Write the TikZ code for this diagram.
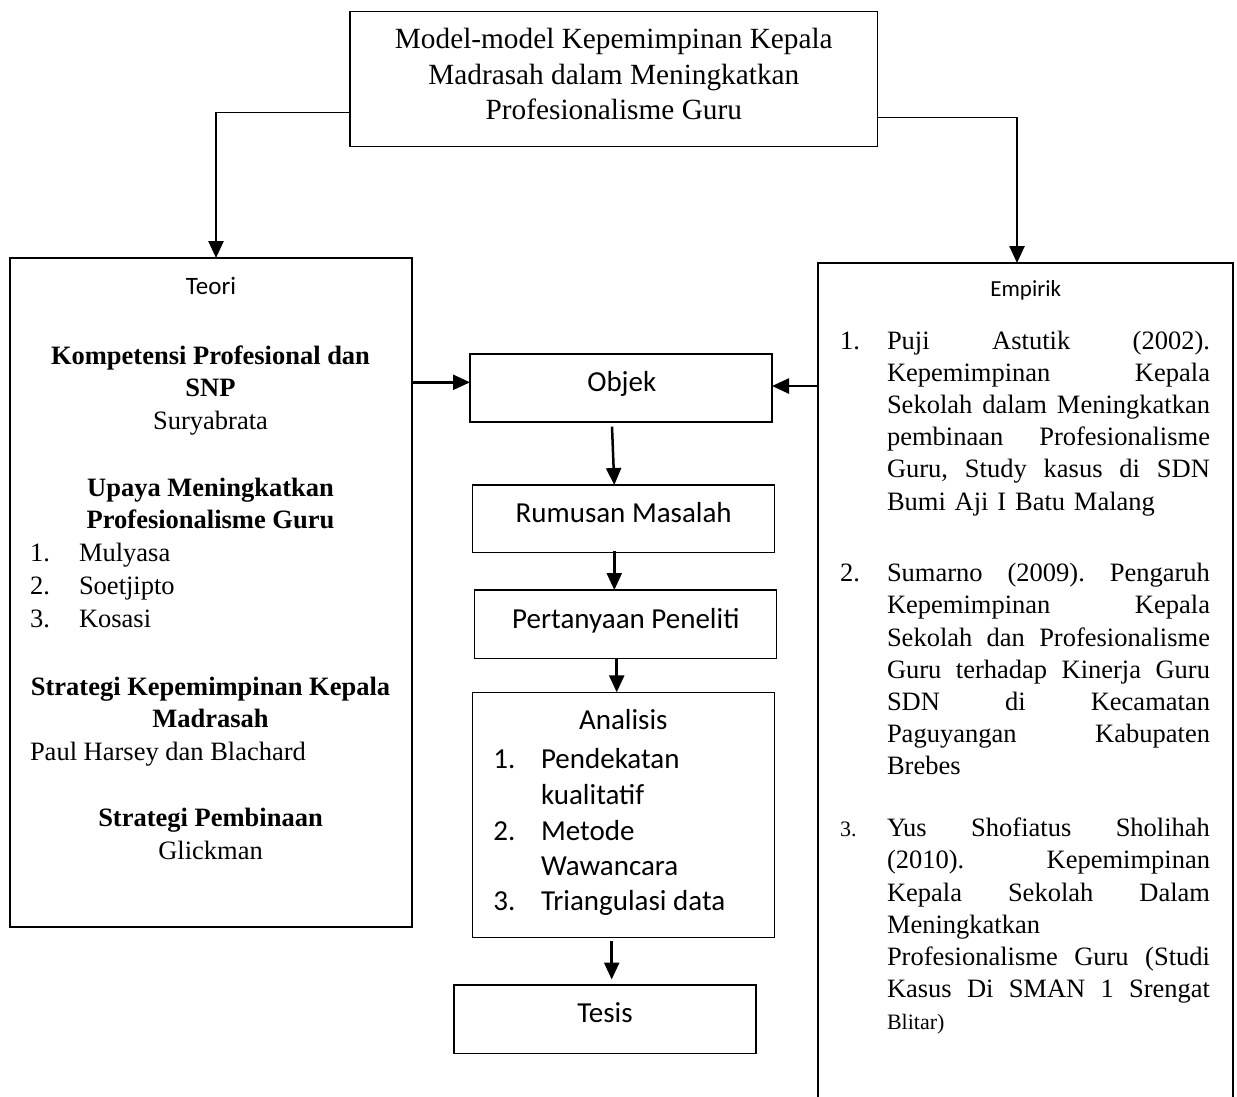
\documentclass[tikz,border=0pt]{standalone}
\usepackage{fontspec}
\setmainfont{Liberation Serif}
\newfontfamily\calfont{Carlito}
\usetikzlibrary{arrows.meta}
\newcommand{\jl}[1]{\makebox[323pt][s]{\frenchspacing\spaceskip=0.25em plus 1fil\xspaceskip=0.25em plus 1fil\relax #1}}
\begin{document}
\begin{tikzpicture}[x=1pt,y=-1pt,
  bx/.style={draw=black,line width=1.2pt,inner sep=0pt,outer sep=0pt},
  arr/.style={line width=2.5pt,-{Triangle[length=17pt,width=15pt]}},
  thinln/.style={line width=1.3pt},
  tx/.style={inner sep=0pt,outer sep=0pt,anchor=base},
  txl/.style={inner sep=0pt,outer sep=0pt,anchor=base west},
  tm/.style={font=\fontsize{26.5}{32.5}\selectfont},
  tmb/.style={font=\fontsize{26.5}{32.5}\selectfont\bfseries},
  cal/.style={font=\calfont\fontsize{29}{35.6}\selectfont},
]
\useasboundingbox (0,0) rectangle (1237,1097);

% boxes
\node[bx,minimum width=527.7pt,minimum height=135pt] (top) at (613.85,79.2) {};
\node[bx,minimum width=402pt,minimum height=669pt] (teori) at (211,592.5) {};
\node[inner sep=0pt,outer sep=0pt,minimum width=415pt,minimum height=847pt] (emp) at (1025.5,686.5) {};
\draw[line width=1.2pt] (emp.south west) -- (emp.north west) -- (emp.north east) -- (emp.south east);
\node[bx,minimum width=302pt,minimum height=68pt] (objek) at (621,388) {};
\node[bx,minimum width=302.4pt,minimum height=67.3pt] (rumusan) at (623.5,518.65) {};
\node[bx,minimum width=302.4pt,minimum height=68.3pt] (pert) at (625.5,624.15) {};
\node[bx,minimum width=302pt,minimum height=245.4pt] (anal) at (623.3,815) {};
\node[bx,minimum width=302pt,minimum height=68.3pt] (tesis) at (605,1019.15) {};

% top box text
\node[tx,font=\fontsize{29.3}{36}\selectfont] (tt1) at (613.8,48.5) {Model-model Kepemimpinan Kepala};
\node[tx,font=\fontsize{29.3}{36}\selectfont] (tt2) at (613.8,84.5) {Madrasah dalam Meningkatkan};
\node[tx,font=\fontsize{29.3}{36}\selectfont] (tt3) at (613.8,120) {Profesionalisme Guru};

% Teori text
\node[tx,font=\calfont\fontsize{25}{30}\selectfont] (teorit) at (211,294) {Teori};
\node[tx,tmb] (k1) at (210.5,364) {Kompetensi Profesional dan};
\node[tx,tmb] (k2) at (210.5,396.7) {SNP};
\node[tx,tm] (k3) at (210.5,429) {Suryabrata};
\node[tx,tmb] (u1) at (210.5,496.7) {Upaya Meningkatkan};
\node[tx,tmb] (u2) at (210.5,528.7) {Profesionalisme Guru};
\node[txl,tm] (n1) at (30,561.7) {1.};
\node[txl,tm] (m1) at (79,561.7) {Mulyasa};
\node[txl,tm] (n2) at (30,594.2) {2.};
\node[txl,tm] (m2) at (79,594.2) {Soetjipto};
\node[txl,tm] (n3) at (30,627.2) {3.};
\node[txl,tm] (m3) at (79,627.2) {Kosasi};
\node[tx,tmb] (s1) at (210.5,695) {Strategi Kepemimpinan Kepala};
\node[tx,tmb] (s2) at (210.5,727.3) {Madrasah};
\node[txl,tm] (s3) at (30,760) {Paul Harsey dan Blachard};
\node[tx,tmb] (p1) at (210.5,826.7) {Strategi Pembinaan};
\node[tx,tm] (p2) at (210.5,859) {Glickman};

% Empirik text
\node[tx,font=\calfont\fontsize{23}{28}\selectfont] (empt) at (1025.7,296.7) {Empirik};
\node[txl,tm] (e1n) at (840,349) {1.};
\node[txl,text width=323pt,align=left,font=\fontsize{26.5}{32.2}\selectfont] (e1) at (887,349)
 {\jl{Puji Astutik (2002).}\\\jl{Kepemimpinan Kepala}\\\jl{Sekolah dalam Meningkatkan}\\\jl{pembinaan Profesionalisme}\\\jl{Guru, Study kasus di SDN}\\Bumi Aji I Batu Malang};
\node[txl,tm] (e2n) at (840,581.7) {2.};
\node[txl,text width=323pt,align=left,font=\fontsize{26.5}{32.2}\selectfont] (e2) at (887,581.7)
 {\jl{Sumarno (2009). Pengaruh}\\\jl{Kepemimpinan Kepala}\\\jl{Sekolah dan Profesionalisme}\\\jl{Guru terhadap Kinerja Guru}\\\jl{SDN di Kecamatan}\\\jl{Paguyangan Kabupaten}\\Brebes};
\node[txl,font=\fontsize{22}{32.2}\selectfont] (e3n) at (840,836.7) {3.};
\node[txl,text width=323pt,align=left,font=\fontsize{26.5}{32.2}\selectfont] (e3) at (887,836.7)
 {\jl{Yus Shofiatus Sholihah}\\\jl{(2010). Kepemimpinan}\\\jl{Kepala Sekolah Dalam}\\Meningkatkan\\\jl{Profesionalisme Guru (Studi}\\\jl{Kasus Di SMAN 1 Srengat}\\{\fontsize{22}{32.2}\selectfont Blitar)}};

% middle column text
\node[tx,cal] (objt) at (621.8,391.7) {Objek};
\node[tx,cal] (rumt) at (623.7,522.7) {Rumusan Masalah};
\node[tx,cal] (pertt) at (625.8,628.3) {Pertanyaan Peneliti};
\node[tx,cal] (analt) at (623.3,729.3) {Analisis};
\node[txl,cal] (a1n) at (493.3,768.3) {1.};
\node[txl,cal] (a1t) at (541,768.3) {Pendekatan};
\node[txl,cal] (a1u) at (541,804.3) {kualitatif};
\node[txl,cal] (a2n) at (493.3,840) {2.};
\node[txl,cal] (a2t) at (541,840) {Metode};
\node[txl,cal] (a2u) at (541,875.3) {Wawancara};
\node[txl,cal] (a3n) at (493.3,910.7) {3.};
\node[txl,cal] (a3t) at (541,910.7) {Triangulasi data};
\node[tx,cal] (tesist) at (605,1022.7) {Tesis};

% connectors
\coordinate (tl) at (216,112.3);
\draw[thinln] (tl -| top.west) -- (tl);
\draw[arr] (tl) -- (tl |- teori.north);
\coordinate (tr) at (1017,117.3);
\draw[thinln] (tr -| top.east) -- (tr);
\draw[arr] (tr) -- (tr |- emp.north);

\coordinate (yl) at (0,382.3);
\draw[arr] (teori.east |- yl) -- (objek.west |- yl);
\coordinate (yr) at (0,386);
\draw[arr] (emp.west |- yr) -- (objek.east |- yr);

\coordinate (c1) at (612,426.7);
\coordinate (c1e) at (614.3,485);
\draw[arr] (c1) -- (c1e);
\coordinate (c2) at (614.3,550.7);
\draw[arr] (c2) -- (c2 |- pert.north);
\coordinate (c3) at (616.7,658);
\draw[arr] (c3) -- (c3 |- anal.north);
\coordinate (c4) at (611.7,941);
\draw[arr,shorten >=5.5pt] (c4) -- (c4 |- tesis.north);
\end{tikzpicture}
\end{document}
